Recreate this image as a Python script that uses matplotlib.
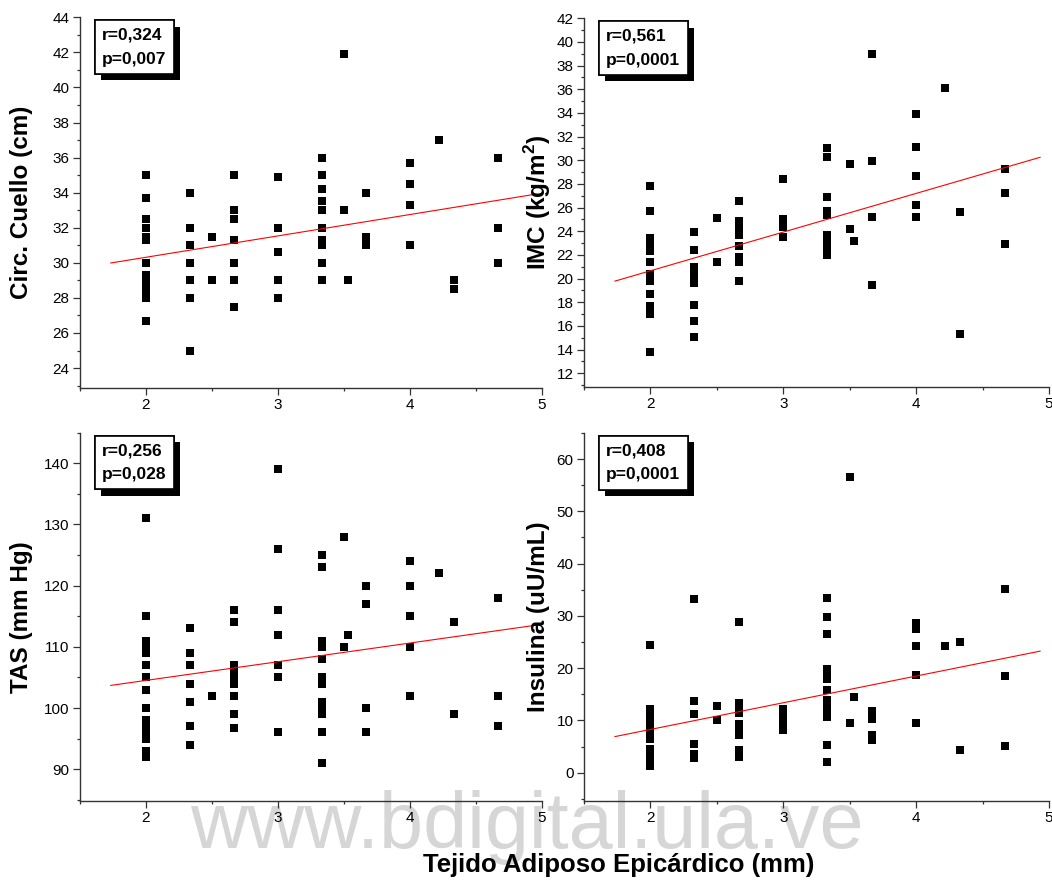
import matplotlib
matplotlib.use('Agg')
import matplotlib.pyplot as plt
import matplotlib.patheffects as pe
from matplotlib import font_manager
from matplotlib.ticker import MultipleLocator
import numpy as np

plt.rcParams['font.family'] = 'Liberation Sans'
plt.rcParams['mathtext.fontset'] = 'custom'
plt.rcParams['mathtext.rm'] = 'Liberation Sans'
plt.rcParams['mathtext.bf'] = 'Liberation Sans:bold'

# epicardial fat thickness (mm), one entry per measured group
tae = [2.0, 2.33, 2.5, 2.67, 3.0, 3.33, 3.5, 3.53, 3.67, 4.0, 4.22, 4.33, 4.67]

# values of each variable, grouped in the same order as tae
cuello = [
    [35, 33.7, 32.5, 32, 31.5, 31.3, 30, 29.3, 29, 28.6, 28.3, 28, 26.7],
    [34, 32, 31, 30, 29, 28, 25],
    [31.5, 29],
    [35, 33, 32.5, 31.3, 30, 29, 27.5],
    [34.9, 32, 30.6, 29, 28],
    [36, 35, 34.2, 33.5, 33, 32, 31.3, 31, 30, 29],
    [41.9, 33],
    [29],
    [34, 31.5, 31],
    [35.7, 34.5, 33.3, 31],
    [37],
    [29, 28.5],
    [36, 32, 30],
]
imc = [
    [27.8, 25.7, 23.4, 23.0, 22.6, 22.3, 21.4, 20.4, 20.1, 19.8, 18.7, 17.7, 17.3, 17.0, 13.8],
    [23.9, 22.4, 21.0, 20.6, 20.3, 19.6, 17.8, 16.4, 15.1],
    [25.1, 21.4],
    [26.6, 24.9, 24.5, 24.1, 23.7, 22.8, 21.8, 21.4, 19.8],
    [28.4, 25.0, 24.7, 24.4, 23.5],
    [31.0, 30.3, 26.9, 25.7, 25.4, 23.7, 23.2, 22.8, 22.4, 22.0],
    [29.7, 24.2],
    [23.2],
    [39.0, 29.9, 25.2, 19.5],
    [33.9, 31.1, 28.7, 26.2, 25.2],
    [36.1],
    [25.6, 15.3],
    [29.3, 27.2, 22.9],
]
tas = [
    [131, 115, 111, 110, 109, 107, 105, 103, 100, 98, 97, 96, 95, 93, 92],
    [113, 109, 107, 104, 101, 97, 94],
    [102],
    [116, 114, 107, 106, 105, 104, 102, 99, 96.7],
    [139, 126, 116, 112, 107, 105, 96],
    [125, 123, 111, 110, 108, 105, 104, 101, 100, 99, 96, 91],
    [128, 110],
    [112],
    [120, 117, 100, 96],
    [124, 120, 115, 110, 102],
    [122],
    [114, 99],
    [118, 102, 97],
]
insulina = [
    [24.5, 12.1, 11.5, 10.8, 10, 9.2, 8.5, 7.7, 7, 6.4, 4.5, 3.8, 3.1, 2.4, 1.7, 1.2],
    [33.3, 13.7, 11.2, 5.5, 3.6, 2.8],
    [12.8, 10.1],
    [28.9, 13.4, 12.3, 11.4, 9.4, 8.5, 7.2, 4.3, 3.1],
    [12.2, 11.3, 10.5, 9.7, 8.9, 8.1],
    [33.5, 29.8, 26.5, 19.8, 18.8, 18.0, 15.8, 13.9, 12.9, 12.0, 11.2, 10.6, 5.4, 2.0],
    [56.5, 9.6],
    [14.5],
    [11.9, 10.2, 7.3, 6.3],
    [28.6, 27.4, 24.3, 18.7, 9.6],
    [24.2],
    [25.1, 4.3],
    [35.1, 18.6, 5.2],
]

labels = ['Circ. Cuello (cm)', r'IMC (kg/m$^\mathbf{2}$)', 'TAS (mm Hg)', 'Insulina (uU/mL)']
r_vals = ['0,324', '0,561', '0,256', '0,408']
p_vals = ['0,007', '0,0001', '0,028', '0,0001']

W, H = 1052, 884
fig = plt.figure(figsize=(W / 100, H / 100), dpi=100)

# pixel boxes (left, top, right, bottom), y limits, tick steps, ylabel x centre
panels = [
    (cuello, (80, 17.3, 542, 387.7), (22.88, 44), 2, 1, 22),
    (imc, (584, 18.3, 1049, 386.7), (10.87, 42), 2, 1, 538),
    (tas, (80, 432.7, 542, 801), (84.8, 145), 10, 5, 22),
    (insulina, (584, 432.9, 1049, 801), (-5.4, 65), 10, 5, 538),
]

for i, (vals, box, ylim, major, minor, lab_x) in enumerate(panels):
    l, t, r, b = box
    ax = fig.add_axes([l / W, 1 - b / H, (r - l) / W, (b - t) / H])
    ax.set_facecolor('none')

    x = np.repeat(tae, [len(v) for v in vals])
    y = np.concatenate(vals)
    ax.plot(x, y, 's', color='black', ms=5.8, mew=0)

    # least squares line, drawn a little past the data
    slope, icpt = np.polyfit(x, y, 1)
    xf = np.array([1.733, 4.933])
    ax.plot(xf, icpt + slope * xf, color='red', lw=0.8)

    ax.set_xlim(1.5, 5)
    ax.set_ylim(*ylim)
    ax.xaxis.set_major_locator(MultipleLocator(1))
    ax.xaxis.set_minor_locator(MultipleLocator(0.5))
    ax.yaxis.set_major_locator(MultipleLocator(major))
    ax.yaxis.set_minor_locator(MultipleLocator(minor))
    ax.set_xticks([2, 3, 4, 5])
    for s in ['top', 'right']:
        ax.spines[s].set_visible(False)
    for s in ['left', 'bottom']:
        ax.spines[s].set_color('#333333')
        ax.spines[s].set_linewidth(1.0)
    ax.tick_params(which='major', direction='out', length=5, width=0.9,
                   labelsize=11, pad=2.5, color='#333333')
    ax.tick_params(which='minor', direction='out', length=2.5, width=0.9,
                   color='#333333')

    fig.text(lab_x / W, 1 - ((t + b) / 2) / H, labels[i], rotation=90,
             ha='center', va='center', fontsize=17.5, fontweight='bold')

    txt = ax.annotate(f'r={r_vals[i]}\np={p_vals[i]}', xy=(0, 1),
                      xycoords='axes fraction', xytext=(16.0, -7.5),
                      textcoords='offset points', ha='left', va='top',
                      fontsize=12.5, fontweight='bold', linespacing=1.75,
                      bbox=dict(boxstyle='square,pad=0.42', fc='white',
                                ec='black', lw=1.2))
    txt.get_bbox_patch().set_path_effects([
        pe.withSimplePatchShadow(offset=(4.5, -4.5), shadow_rgbFace='black', alpha=1.0),
        pe.Normal()])

fig.text(619 / W, 1 - 865 / H, 'Tejido Adiposo Epicárdico (mm)',
         ha='center', va='center', fontsize=18.5, fontweight='bold')

# site watermark behind everything
names = {f.name for f in font_manager.fontManager.ttflist}
if 'Liberation Sans Narrow' in names:
    wm_font, wm_size = 'Liberation Sans Narrow', 68
else:
    wm_font, wm_size = 'Liberation Sans', 57
fig.text(527 / W, 1 - 848 / H, 'www.bdigital.ula.ve', ha='center',
         va='baseline', family=wm_font, fontsize=wm_size, color='#d6d6d6',
         zorder=-1)

fig.savefig('out.png', dpi=100, facecolor='white')
